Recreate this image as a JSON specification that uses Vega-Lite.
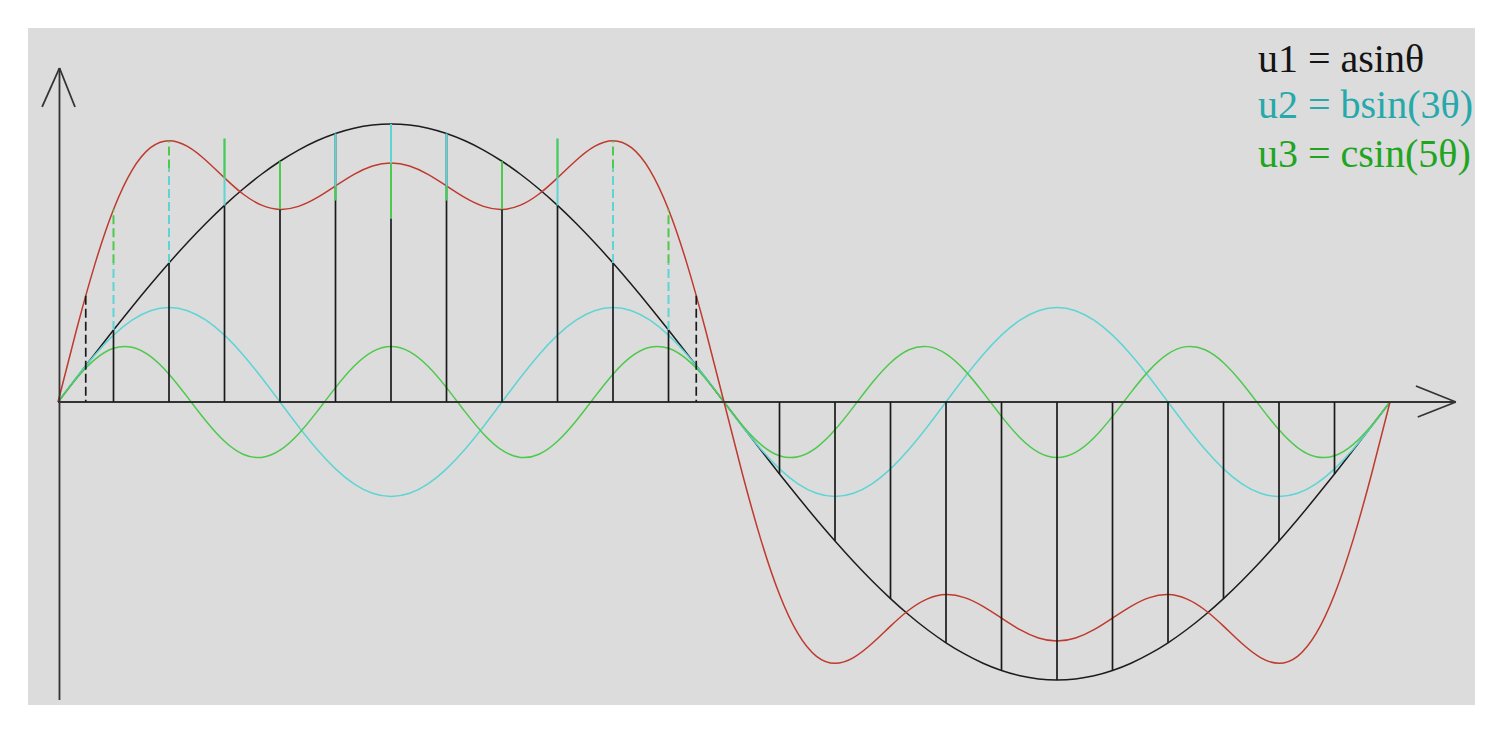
{
  "$schema": "https://vega.github.io/schema/vega-lite/v6.json",
  "width": 1447,
  "height": 677,
  "autosize": {"type": "none"},
  "padding": {"left": 28, "top": 28, "right": 28, "bottom": 29},
  "background": "#ffffff",
  "config": {"view": {"fill": "#dcdcdc", "stroke": null}},
  "datasets": {
    "curves": [
      {"theta": 0, "u1": 0, "u2": 0, "u3": 0, "s": 0},
      {"theta": 5, "u1": 0.0872, "u2": 0.088, "u3": 0.0845, "s": 0.2597},
      {"theta": 10, "u1": 0.1736, "u2": 0.17, "u3": 0.1532, "s": 0.4968},
      {"theta": 15, "u1": 0.2588, "u2": 0.2404, "u3": 0.1932, "s": 0.6924},
      {"theta": 20, "u1": 0.342, "u2": 0.2944, "u3": 0.197, "s": 0.8334},
      {"theta": 25, "u1": 0.4226, "u2": 0.3284, "u3": 0.1638, "s": 0.9148},
      {"theta": 30, "u1": 0.5, "u2": 0.34, "u3": 0.1, "s": 0.94},
      {"theta": 35, "u1": 0.5736, "u2": 0.3284, "u3": 0.0174, "s": 0.9194},
      {"theta": 40, "u1": 0.6428, "u2": 0.2944, "u3": -0.0684, "s": 0.8688},
      {"theta": 45, "u1": 0.7071, "u2": 0.2404, "u3": -0.1414, "s": 0.8061},
      {"theta": 50, "u1": 0.766, "u2": 0.17, "u3": -0.1879, "s": 0.7481},
      {"theta": 55, "u1": 0.8192, "u2": 0.088, "u3": -0.1992, "s": 0.708},
      {"theta": 60, "u1": 0.866, "u2": 0, "u3": -0.1732, "s": 0.6928},
      {"theta": 65, "u1": 0.9063, "u2": -0.088, "u3": -0.1147, "s": 0.7036},
      {"theta": 70, "u1": 0.9397, "u2": -0.17, "u3": -0.0347, "s": 0.735},
      {"theta": 75, "u1": 0.9659, "u2": -0.2404, "u3": 0.0518, "s": 0.7773},
      {"theta": 80, "u1": 0.9848, "u2": -0.2944, "u3": 0.1286, "s": 0.819},
      {"theta": 85, "u1": 0.9962, "u2": -0.3284, "u3": 0.1813, "s": 0.8491},
      {"theta": 90, "u1": 1, "u2": -0.34, "u3": 0.2, "s": 0.86},
      {"theta": 95, "u1": 0.9962, "u2": -0.3284, "u3": 0.1813, "s": 0.8491},
      {"theta": 100, "u1": 0.9848, "u2": -0.2944, "u3": 0.1286, "s": 0.819},
      {"theta": 105, "u1": 0.9659, "u2": -0.2404, "u3": 0.0518, "s": 0.7773},
      {"theta": 110, "u1": 0.9397, "u2": -0.17, "u3": -0.0347, "s": 0.735},
      {"theta": 115, "u1": 0.9063, "u2": -0.088, "u3": -0.1147, "s": 0.7036},
      {"theta": 120, "u1": 0.866, "u2": 0, "u3": -0.1732, "s": 0.6928},
      {"theta": 125, "u1": 0.8192, "u2": 0.088, "u3": -0.1992, "s": 0.708},
      {"theta": 130, "u1": 0.766, "u2": 0.17, "u3": -0.1879, "s": 0.7481},
      {"theta": 135, "u1": 0.7071, "u2": 0.2404, "u3": -0.1414, "s": 0.8061},
      {"theta": 140, "u1": 0.6428, "u2": 0.2944, "u3": -0.0684, "s": 0.8688},
      {"theta": 145, "u1": 0.5736, "u2": 0.3284, "u3": 0.0174, "s": 0.9194},
      {"theta": 150, "u1": 0.5, "u2": 0.34, "u3": 0.1, "s": 0.94},
      {"theta": 155, "u1": 0.4226, "u2": 0.3284, "u3": 0.1638, "s": 0.9148},
      {"theta": 160, "u1": 0.342, "u2": 0.2944, "u3": 0.197, "s": 0.8334},
      {"theta": 165, "u1": 0.2588, "u2": 0.2404, "u3": 0.1932, "s": 0.6924},
      {"theta": 170, "u1": 0.1736, "u2": 0.17, "u3": 0.1532, "s": 0.4968},
      {"theta": 175, "u1": 0.0872, "u2": 0.088, "u3": 0.0845, "s": 0.2597},
      {"theta": 180, "u1": 0, "u2": 0, "u3": 0, "s": 0},
      {"theta": 185, "u1": -0.0872, "u2": -0.088, "u3": -0.0845, "s": -0.2597},
      {"theta": 190, "u1": -0.1736, "u2": -0.17, "u3": -0.1532, "s": -0.4968},
      {"theta": 195, "u1": -0.2588, "u2": -0.2404, "u3": -0.1932, "s": -0.6924},
      {"theta": 200, "u1": -0.342, "u2": -0.2944, "u3": -0.197, "s": -0.8334},
      {"theta": 205, "u1": -0.4226, "u2": -0.3284, "u3": -0.1638, "s": -0.9148},
      {"theta": 210, "u1": -0.5, "u2": -0.34, "u3": -0.1, "s": -0.94},
      {"theta": 215, "u1": -0.5736, "u2": -0.3284, "u3": -0.0174, "s": -0.9194},
      {"theta": 220, "u1": -0.6428, "u2": -0.2944, "u3": 0.0684, "s": -0.8688},
      {"theta": 225, "u1": -0.7071, "u2": -0.2404, "u3": 0.1414, "s": -0.8061},
      {"theta": 230, "u1": -0.766, "u2": -0.17, "u3": 0.1879, "s": -0.7481},
      {"theta": 235, "u1": -0.8192, "u2": -0.088, "u3": 0.1992, "s": -0.708},
      {"theta": 240, "u1": -0.866, "u2": 0, "u3": 0.1732, "s": -0.6928},
      {"theta": 245, "u1": -0.9063, "u2": 0.088, "u3": 0.1147, "s": -0.7036},
      {"theta": 250, "u1": -0.9397, "u2": 0.17, "u3": 0.0347, "s": -0.735},
      {"theta": 255, "u1": -0.9659, "u2": 0.2404, "u3": -0.0518, "s": -0.7773},
      {"theta": 260, "u1": -0.9848, "u2": 0.2944, "u3": -0.1286, "s": -0.819},
      {"theta": 265, "u1": -0.9962, "u2": 0.3284, "u3": -0.1813, "s": -0.8491},
      {"theta": 270, "u1": -1, "u2": 0.34, "u3": -0.2, "s": -0.86},
      {"theta": 275, "u1": -0.9962, "u2": 0.3284, "u3": -0.1813, "s": -0.8491},
      {"theta": 280, "u1": -0.9848, "u2": 0.2944, "u3": -0.1286, "s": -0.819},
      {"theta": 285, "u1": -0.9659, "u2": 0.2404, "u3": -0.0518, "s": -0.7773},
      {"theta": 290, "u1": -0.9397, "u2": 0.17, "u3": 0.0347, "s": -0.735},
      {"theta": 295, "u1": -0.9063, "u2": 0.088, "u3": 0.1147, "s": -0.7036},
      {"theta": 300, "u1": -0.866, "u2": 0, "u3": 0.1732, "s": -0.6928},
      {"theta": 305, "u1": -0.8192, "u2": -0.088, "u3": 0.1992, "s": -0.708},
      {"theta": 310, "u1": -0.766, "u2": -0.17, "u3": 0.1879, "s": -0.7481},
      {"theta": 315, "u1": -0.7071, "u2": -0.2404, "u3": 0.1414, "s": -0.8061},
      {"theta": 320, "u1": -0.6428, "u2": -0.2944, "u3": 0.0684, "s": -0.8688},
      {"theta": 325, "u1": -0.5736, "u2": -0.3284, "u3": -0.0174, "s": -0.9194},
      {"theta": 330, "u1": -0.5, "u2": -0.34, "u3": -0.1, "s": -0.94},
      {"theta": 335, "u1": -0.4226, "u2": -0.3284, "u3": -0.1638, "s": -0.9148},
      {"theta": 340, "u1": -0.342, "u2": -0.2944, "u3": -0.197, "s": -0.8334},
      {"theta": 345, "u1": -0.2588, "u2": -0.2404, "u3": -0.1932, "s": -0.6924},
      {"theta": 350, "u1": -0.1736, "u2": -0.17, "u3": -0.1532, "s": -0.4968},
      {"theta": 355, "u1": -0.0872, "u2": -0.088, "u3": -0.0845, "s": -0.2597},
      {"theta": 360, "u1": 0, "u2": 0, "u3": 0, "s": 0}
    ],
    "ticks": [
      {"theta": 7.5, "group": "outer", "u1": 0.1305, "s12": 0.2606, "s123": 0.3824},
      {"theta": 15, "group": "edge", "u1": 0.2588, "s12": 0.4992, "s123": 0.6924},
      {"theta": 30, "group": "edge", "u1": 0.5, "s12": 0.84, "s123": 0.94},
      {"theta": 45, "group": "mid", "u1": 0.7071, "s12": 0.9475, "s123": 0.8061},
      {"theta": 60, "group": "mid", "u1": 0.866, "s12": 0.866, "s123": 0.6928},
      {"theta": 75, "group": "mid", "u1": 0.9659, "s12": 0.7255, "s123": 0.7773},
      {"theta": 90, "group": "mid", "u1": 1, "s12": 0.66, "s123": 0.86},
      {"theta": 105, "group": "mid", "u1": 0.9659, "s12": 0.7255, "s123": 0.7773},
      {"theta": 120, "group": "mid", "u1": 0.866, "s12": 0.866, "s123": 0.6928},
      {"theta": 135, "group": "mid", "u1": 0.7071, "s12": 0.9475, "s123": 0.8061},
      {"theta": 150, "group": "edge", "u1": 0.5, "s12": 0.84, "s123": 0.94},
      {"theta": 165, "group": "edge", "u1": 0.2588, "s12": 0.4992, "s123": 0.6924},
      {"theta": 172.5, "group": "outer", "u1": 0.1305, "s12": 0.2606, "s123": 0.3824},
      {"theta": 195, "group": "neg", "u1": -0.2588},
      {"theta": 210, "group": "neg", "u1": -0.5},
      {"theta": 225, "group": "neg", "u1": -0.7071},
      {"theta": 240, "group": "neg", "u1": -0.866},
      {"theta": 255, "group": "neg", "u1": -0.9659},
      {"theta": 270, "group": "neg", "u1": -1},
      {"theta": 285, "group": "neg", "u1": -0.9659},
      {"theta": 300, "group": "neg", "u1": -0.866},
      {"theta": 315, "group": "neg", "u1": -0.7071},
      {"theta": 330, "group": "neg", "u1": -0.5},
      {"theta": 345, "group": "neg", "u1": -0.2588}
    ],
    "axisLines": [
      {"part": "y axis", "x0": 0.4, "y0": -1.072, "x1": 0.4, "y1": 1.2014},
      {"part": "x axis", "x0": 0, "y0": 0, "x1": 377.8, "y1": 0},
      {"part": "y arrow left", "x0": 0.4, "y0": 1.2014, "x1": -4.3, "y1": 1.0612},
      {"part": "y arrow right", "x0": 0.4, "y0": 1.2014, "x1": 4.6, "y1": 1.0612},
      {"part": "x arrow top", "x0": 377.8, "y0": 0, "x1": 367.0, "y1": 0.0576},
      {"part": "x arrow bottom", "x0": 377.8, "y0": 0, "x1": 367.5, "y1": -0.054}
    ]
  },
  "layer": [
    {
      "data": {"name": "curves"},
      "transform": [{"fold": ["u1", "u2", "u3", "s"], "as": ["series", "value"]}],
      "mark": {"type": "line", "interpolate": "natural", "strokeWidth": 1.5},
      "encoding": {
        "x": {"field": "theta", "type": "quantitative", "scale": {"domain": [-8.108, 382.97], "nice": false, "zero": false}, "axis": null},
        "y": {"field": "value", "type": "quantitative", "scale": {"domain": [-1.0899, 1.3453], "nice": false, "zero": false}, "axis": null},
        "color": {"field": "series", "type": "nominal", "scale": {"domain": ["u1", "u2", "u3", "s"], "range": ["#1c1c1c", "#5fd4d4", "#4dc94d", "#bf3a2e"]}, "legend": null}
      }
    },
    {
      "data": {"name": "axisLines"},
      "mark": {"type": "rule", "color": "#333333", "strokeWidth": 1.8},
      "encoding": {
        "x": {"field": "x0", "type": "quantitative"},
        "y": {"field": "y0", "type": "quantitative"},
        "x2": {"field": "x1"},
        "y2": {"field": "y1"}
      }
    },
    {
      "data": {"name": "ticks"},
      "transform": [{"filter": {"field": "group", "oneOf": ["edge", "mid", "neg"]}}],
      "mark": {"type": "rule", "color": "#1a1a1a", "strokeWidth": 1.7},
      "encoding": {
        "x": {"field": "theta", "type": "quantitative"},
        "y": {"field": "u1", "type": "quantitative"},
        "y2": {"datum": 0}
      }
    },
    {
      "data": {"name": "ticks"},
      "transform": [{"filter": {"field": "group", "equal": "outer"}}],
      "mark": {"type": "rule", "color": "#1a1a1a", "strokeWidth": 1.7, "strokeDash": [9, 4]},
      "encoding": {
        "x": {"field": "theta", "type": "quantitative"},
        "y": {"field": "s123", "type": "quantitative"},
        "y2": {"datum": 0}
      }
    },
    {
      "data": {"name": "ticks"},
      "transform": [{"filter": {"field": "group", "equal": "edge"}}],
      "mark": {"type": "rule", "color": "#5fd4d4", "strokeWidth": 2, "strokeDash": [9, 4]},
      "encoding": {
        "x": {"field": "theta", "type": "quantitative"},
        "y": {"field": "u1", "type": "quantitative"},
        "y2": {"field": "s12"}
      }
    },
    {
      "data": {"name": "ticks"},
      "transform": [{"filter": {"field": "group", "equal": "edge"}}],
      "mark": {"type": "rule", "color": "#4dc94d", "strokeWidth": 2, "strokeDash": [9, 4]},
      "encoding": {
        "x": {"field": "theta", "type": "quantitative"},
        "y": {"field": "s12", "type": "quantitative"},
        "y2": {"field": "s123"}
      }
    },
    {
      "data": {"name": "ticks"},
      "transform": [{"filter": {"field": "group", "equal": "mid"}}],
      "mark": {"type": "rule", "color": "#5fd4d4", "strokeWidth": 2},
      "encoding": {
        "x": {"field": "theta", "type": "quantitative"},
        "y": {"field": "u1", "type": "quantitative"},
        "y2": {"field": "s12"}
      }
    },
    {
      "data": {"name": "ticks"},
      "transform": [{"filter": {"field": "group", "equal": "mid"}}],
      "mark": {"type": "rule", "color": "#4dc94d", "strokeWidth": 2},
      "encoding": {
        "x": {"field": "theta", "type": "quantitative"},
        "y": {"field": "s12", "type": "quantitative"},
        "y2": {"field": "s123"}
      }
    },
    {
      "data": {"values": [{"label": "u1 = asinθ"}]},
      "mark": {"type": "text", "font": "Liberation Serif", "fontSize": 40, "align": "left", "baseline": "alphabetic", "color": "#141414"},
      "encoding": {
        "x": {"datum": 324.3, "type": "quantitative"},
        "y": {"datum": 1.187, "type": "quantitative"},
        "text": {"field": "label"}
      }
    },
    {
      "data": {"values": [{"label": "u2 = bsin(3θ)"}]},
      "mark": {"type": "text", "font": "Liberation Serif", "fontSize": 40, "align": "left", "baseline": "alphabetic", "color": "#26a9ab"},
      "encoding": {
        "x": {"datum": 324.3, "type": "quantitative"},
        "y": {"datum": 1.022, "type": "quantitative"},
        "text": {"field": "label"}
      }
    },
    {
      "data": {"values": [{"label": "u3 = csin(5θ)"}]},
      "mark": {"type": "text", "font": "Liberation Serif", "fontSize": 40, "align": "left", "baseline": "alphabetic", "color": "#1fa51f"},
      "encoding": {
        "x": {"datum": 324.3, "type": "quantitative"},
        "y": {"datum": 0.845, "type": "quantitative"},
        "text": {"field": "label"}
      }
    }
  ]
}
